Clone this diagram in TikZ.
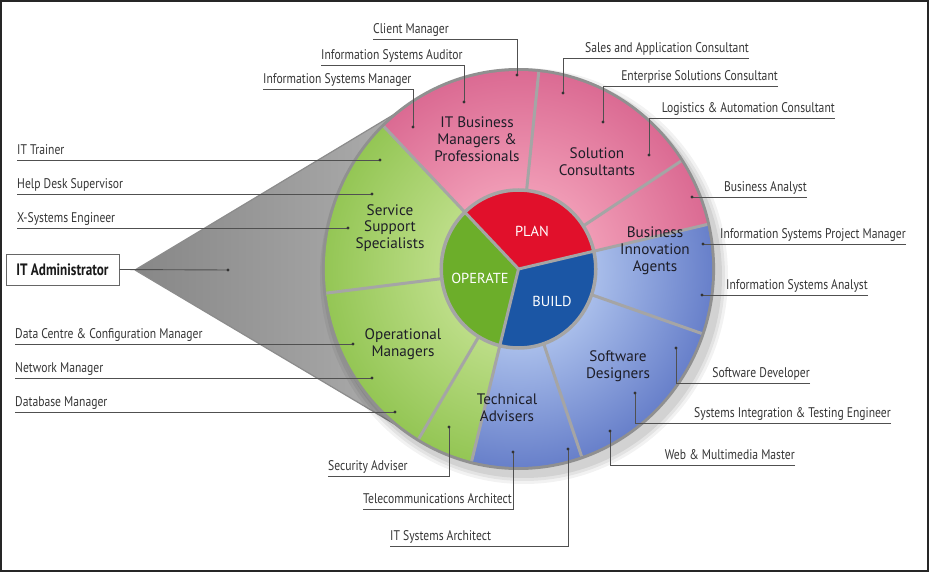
\documentclass[tikz,border=0pt]{standalone}
\usepackage{fontspec}
\setmainfont{PT Sans}
\newfontfamily\lblfont[FakeStretch=0.83]{PT Sans}
\newfontfamily\adminfont[FakeStretch=0.8]{PT Sans}
\definecolor{pinkA}{HTML}{F09BB5}
\definecolor{pinkB}{HTML}{DB6B93}
\definecolor{greenA}{HTML}{BCDD87}
\definecolor{greenB}{HTML}{94C655}
\definecolor{blueA}{HTML}{A8BDEA}
\definecolor{blueB}{HTML}{6880CA}
\definecolor{planred}{HTML}{E1102B}
\definecolor{opgreen}{HTML}{6CAE2A}
\definecolor{buildblue}{HTML}{1B56A5}
\definecolor{sepgray}{HTML}{A5A5A5}
\definecolor{rimgray}{HTML}{909090}
\definecolor{conedark}{HTML}{878787}
\definecolor{conelight}{HTML}{BDBDBD}
\definecolor{leadgray}{HTML}{505050}
\definecolor{lbltext}{HTML}{363636}
\definecolor{wtext}{HTML}{1E1E28}
\pgfdeclareradialshading{pinkring}{\pgfpointorigin}{color(0bp)=(pinkA); color(10bp)=(pinkA); color(25bp)=(pinkB); color(50bp)=(pinkB)}
\pgfdeclareradialshading{greenring}{\pgfpointorigin}{color(0bp)=(greenA); color(10bp)=(greenA); color(25bp)=(greenB); color(50bp)=(greenB)}
\pgfdeclareradialshading{bluering}{\pgfpointorigin}{color(0bp)=(blueA); color(10bp)=(blueA); color(25bp)=(blueB); color(50bp)=(blueB)}
\newcommand\ringsec[3]{%
  \begin{scope}
    \clip (#1:79) arc[start angle=#1, end angle=#2, radius=79] -- (#2:198) arc[start angle=#2, end angle=#1, radius=198] -- cycle;
    \shade[shading=#3] (0,0) circle[radius=198];
  \end{scope}}
\newcommand\elbow[7]{%
  \node[lbl, anchor=#3] (#1) at (#4,#5-5.5) {#2};
  \coordinate (#1s) at (#4,#5);
  \coordinate (#1c) at (#6,#5);
  \coordinate (#1d) at (#6,#7);
  \draw[lead] (#1s) -- (#1c) -- (#1d);
  \fill[black!80] (#1d) circle[radius=1.7];}
\begin{document}
\begin{tikzpicture}[x=1pt,y=-1pt,
  lbl/.style={font=\lblfont\fontsize{14}{16}\selectfont, text=lbltext, inner sep=0pt},
  lead/.style={draw=leadgray, line width=0.9pt},
  wlbl/.style={font=\fontsize{15.2}{16.8}\selectfont, text=wtext, align=center, inner sep=0pt},
  clbl/.style={font=\fontsize{14.5}{16.8}\selectfont, text=white, inner sep=0pt},
  sep/.style={draw=sepgray, line width=3pt},
  coneedge/.style={draw=black!45, line width=1.2pt}]
\useasboundingbox (0,0) rectangle (929,572);
\fill[white] (0,0) rectangle (929,572);
% cone
\coordinate (tip) at (135,270);
\coordinate (tA) at (418,100);
\coordinate (tB) at (418,438);
\coordinate (wc) at (518.5,269);
\shade[left color=conedark, right color=conelight] (tip) -- (tA) -- (wc) -- (tB) -- cycle;
\draw[coneedge] (tip) -- (tA);
\draw[coneedge] (tip) -- (tB);
% soft shadow
\foreach \s/\o in {10/0.05,7/0.06,4/0.07}
  \fill[black, opacity=\o] (524,276) ellipse[x radius=194+\s, y radius=198+\s];
% wheel
\begin{scope}[shift={(518.5,269)}, yscale=-1, xscale=0.978]
  \fill[rimgray] (0,0) circle[radius=201];
  \ringsec{84}{134}{pinkring}
  \ringsec{33}{84}{pinkring}
  \ringsec{13}{33}{pinkring}
  \ringsec{-19}{13}{bluering}
  \ringsec{-71}{-19}{bluering}
  \ringsec{-104}{-71}{bluering}
  \ringsec{239}{256}{greenring}
  \ringsec{187}{239}{greenring}
  \ringsec{134}{187}{greenring}
  \foreach \a in {134,84,33,13,-19,-71,-104,239,187}
    \draw[sep] (\a:79) -- (\a:198);
  \fill[planred] (0,0) -- (13:79) arc[start angle=13, end angle=134, radius=79] -- cycle;
  \fill[opgreen] (0,0) -- (134:79) arc[start angle=134, end angle=256, radius=79] -- cycle;
  \fill[buildblue] (0,0) -- (256:79) arc[start angle=256, end angle=373, radius=79] -- cycle;
  \foreach \a in {13,134,256}
    \draw[sep] (0,0) -- (\a:79);
  \draw[sep, line width=3.5pt] (0,0) circle[radius=79];
\end{scope}
% wheel labels
\node[wlbl] (itb) at (477,139) {IT Business\\Managers \&\\Professionals};
\node[wlbl] (sc) at (597,162) {Solution\\Consultants};
\node[wlbl] (sss) at (390,228) {Service\\Support\\Specialists};
\node[wlbl] (om) at (403,344) {Operational\\Managers};
\node[wlbl] (tadv) at (507,408) {Technical\\Advisers};
\node[wlbl] (sdes) at (618,366) {Software\\Designers};
\node[wlbl] (bia) at (655,251) {Business\\Innovation\\Agents};
\node[clbl] (plan) at (532,231) {PLAN};
\node[clbl] (oper) at (480,278) {OPERATE};
\node[clbl] (build) at (552,301) {BUILD};
% leader labels
\elbow{tr}{IT Trainer}{base west}{17}{160}{380}{160}
\elbow{hd}{Help Desk Supervisor}{base west}{17}{194}{372}{194}
\elbow{xs}{X-Systems Engineer}{base west}{17}{228}{348}{228}
\elbow{dc}{Data Centre \& Configuration Manager}{base west}{15}{344}{353}{344}
\elbow{nm}{Network Manager}{base west}{15}{378}{372}{378}
\elbow{db}{Database Manager}{base west}{15}{412}{395}{412}
\elbow{cm}{Client Manager}{base west}{373}{39}{517}{75}
\elbow{isa}{Information Systems Auditor}{base west}{321}{65}{464}{102}
\elbow{ism}{Information Systems Manager}{base west}{263}{89}{413}{127}
\elbow{sac}{Sales and Application Consultant}{base east}{749}{58}{563}{93}
\elbow{esc}{Enterprise Solutions Consultant}{base east}{778}{86}{603}{122}
\elbow{lac}{Logistics \& Automation Consultant}{base east}{835}{118}{649}{155}
\elbow{ba}{Business Analyst}{base east}{807}{197}{692}{197}
\elbow{ispm}{Information Systems Project Manager}{base east}{906}{244}{703}{244}
\elbow{isan}{Information Systems Analyst}{base east}{868}{295}{702}{295}
\elbow{sd}{Software Developer}{base east}{810}{383}{676}{348}
\elbow{sit}{Systems Integration \& Testing Engineer}{base east}{891}{423}{635}{393}
\elbow{wmm}{Web \& Multimedia Master}{base east}{795}{465}{610}{431}
\elbow{sa}{Security Adviser}{base west}{328}{476}{449}{427}
\elbow{ta}{Telecommunications Architect}{base west}{363}{509}{513}{452}
\elbow{itsa}{IT Systems Architect}{base west}{390}{546}{568}{449}
% IT Administrator
\node[draw=black!60, line width=1pt, fill=white, minimum width=113pt, minimum height=31pt, inner sep=0pt,
  font=\adminfont\bfseries\fontsize{16.5}{18}\selectfont, text=black!90] (ita) at (62.5,269.5) {IT Administrator};
\coordinate (itad) at (228,270);
\draw[lead] (ita.east) -- (itad);
\fill[black!80] (itad) circle[radius=1.7];
% frame
\draw[line width=2pt, black!85] (1,1) rectangle (928,571);
\end{tikzpicture}
\end{document}
